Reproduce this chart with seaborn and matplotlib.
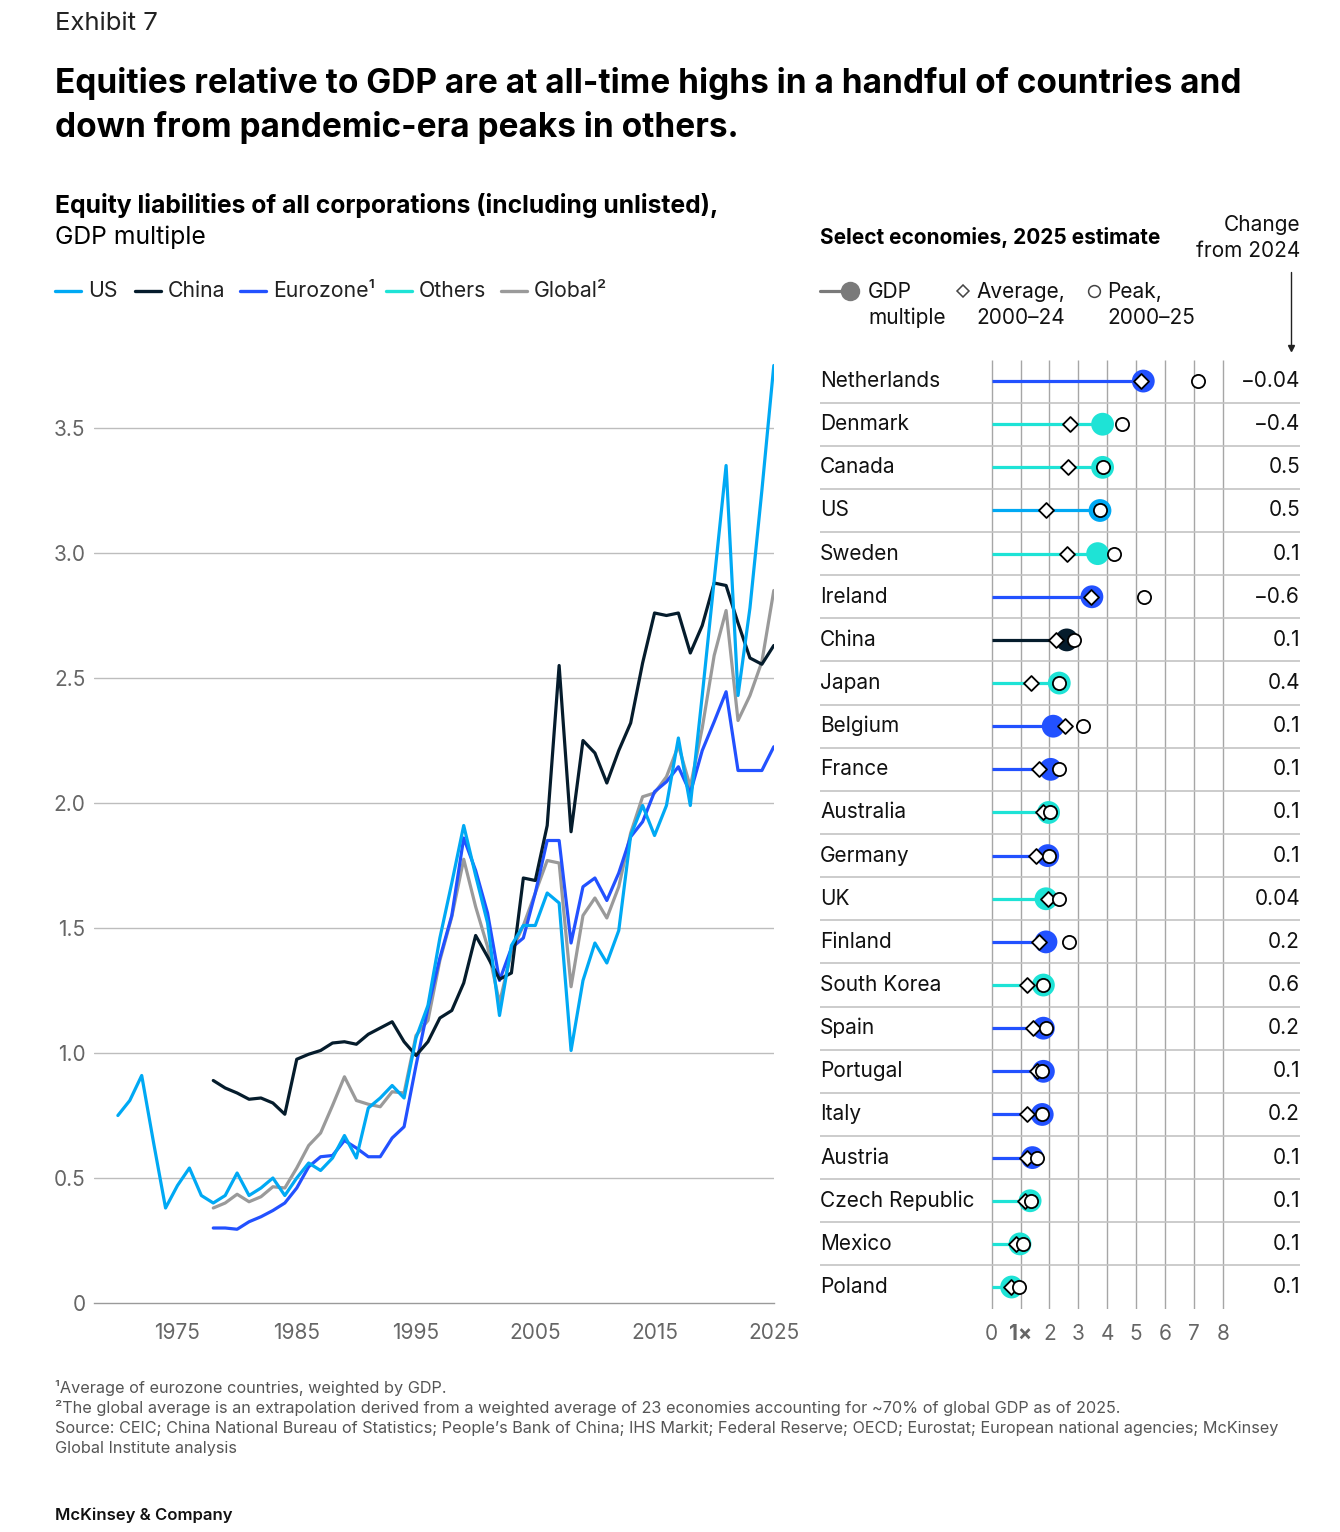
import matplotlib
matplotlib.use('Agg')
import matplotlib.pyplot as plt
import matplotlib.ticker as mticker
import numpy as np
import pandas as pd
import seaborn as sns

# ---- data: left panel (GDP multiple over time) ----
us_years = list(range(1970, 2026))
us_vals = [0.75, 0.81, 0.91, 0.64, 0.38, 0.47, 0.54, 0.43, 0.40, 0.43,
           0.52, 0.43, 0.46, 0.50, 0.43, 0.50, 0.56, 0.53, 0.58, 0.67,
           0.58, 0.78, 0.82, 0.87, 0.82, 1.06, 1.19, 1.46, 1.68, 1.91,
           1.71, 1.52, 1.15, 1.43, 1.51, 1.51, 1.64, 1.60, 1.01, 1.29,
           1.44, 1.36, 1.49, 1.87, 1.99, 1.87, 1.99, 2.26, 1.99, 2.43,
           2.89, 3.35, 2.43, 2.78, 3.25, 3.75]
other_years = list(range(1978, 2026))
china_vals = [0.89, 0.86, 0.84, 0.815, 0.82, 0.80, 0.755, 0.975, 0.995, 1.01,
              1.04, 1.045, 1.035, 1.075, 1.10, 1.125, 1.045, 0.99, 1.045, 1.14,
              1.17, 1.28, 1.47, 1.385, 1.295, 1.32, 1.70, 1.69, 1.91, 2.55,
              1.885, 2.25, 2.20, 2.08, 2.21, 2.32, 2.56, 2.76, 2.75, 2.76,
              2.60, 2.71, 2.88, 2.87, 2.72, 2.58, 2.555, 2.63]
euro_vals = [0.30, 0.30, 0.295, 0.325, 0.345, 0.37, 0.40, 0.46, 0.545, 0.585,
             0.59, 0.65, 0.62, 0.585, 0.585, 0.66, 0.705, 0.95, 1.18, 1.38,
             1.55, 1.86, 1.73, 1.56, 1.29, 1.42, 1.46, 1.64, 1.85, 1.85,
             1.44, 1.665, 1.70, 1.61, 1.72, 1.865, 1.925, 2.045, 2.085, 2.145,
             2.04, 2.21, 2.325, 2.445, 2.13, 2.13, 2.13, 2.225]
global_vals = [0.38, 0.40, 0.435, 0.405, 0.425, 0.465, 0.46, 0.54, 0.63, 0.68,
               0.79, 0.905, 0.81, 0.795, 0.785, 0.845, 0.84, 1.07, 1.13, 1.37,
               1.545, 1.775, 1.585, 1.425, 1.20, 1.405, 1.51, 1.64, 1.77, 1.76,
               1.265, 1.55, 1.62, 1.54, 1.665, 1.88, 2.025, 2.04, 2.105, 2.23,
               2.065, 2.30, 2.59, 2.77, 2.33, 2.43, 2.565, 2.85]

# ---- data: right panel (2025 estimate by economy) ----
countries = ['Netherlands', 'Denmark', 'Canada', 'US', 'Sweden', 'Ireland', 'China',
             'Japan', 'Belgium', 'France', 'Australia', 'Germany', 'UK', 'Finland',
             'South Korea', 'Spain', 'Portugal', 'Italy', 'Austria', 'Czech Republic',
             'Mexico', 'Poland']
groups = ['Eurozone', 'Others', 'Others', 'US', 'Others', 'Eurozone', 'China',
          'Others', 'Eurozone', 'Eurozone', 'Others', 'Eurozone', 'Others', 'Eurozone',
          'Others', 'Eurozone', 'Eurozone', 'Eurozone', 'Eurozone', 'Others',
          'Others', 'Others']
gdp_mult = [5.25, 3.84, 3.84, 3.75, 3.67, 3.47, 2.60, 2.34, 2.13, 2.04, 1.97,
            1.94, 1.88, 1.88, 1.79, 1.79, 1.79, 1.75, 1.41, 1.33, 0.98, 0.69]
avg_00_24 = [5.17, 2.71, 2.65, 1.89, 2.62, 3.43, 2.23, 1.36, 2.54, 1.65, 1.76,
             1.52, 1.96, 1.65, 1.21, 1.42, 1.56, 1.23, 1.23, 1.15, 0.84, 0.66]
peak_00_25 = [7.15, 4.52, 3.84, 3.75, 4.22, 5.28, 2.86, 2.34, 3.17, 2.34, 2.03,
              1.98, 2.34, 2.69, 1.79, 1.88, 1.75, 1.75, 1.56, 1.35, 1.07, 0.96]
change_2024 = ['−0.04', '−0.4', '0.5', '0.5', '0.1', '−0.6', '0.1', '0.4', '0.1',
               '0.1', '0.1', '0.1', '0.04', '0.2', '0.6', '0.2', '0.1', '0.2',
               '0.1', '0.1', '0.1', '0.1']
xtick_labels = ['0', '1×', '2', '3', '4', '5', '6', '7', '8']

palette = {'US': '#00A9F4', 'China': '#051C2C', 'Eurozone': '#2251FF',
           'Others': '#1EE3D6', 'Global': '#9A9A9A'}

sns.set_theme(style='white')
plt.rcParams['font.family'] = ['Inter', 'DejaVu Sans']

W, H = 1340, 1532
fig = plt.figure(figsize=(W / 100, H / 100), dpi=100)
fig.patch.set_facecolor('white')


def fx(x):
    return x / W


def fy(y):
    return 1 - y / H


# ---- headers ----
fig.text(fx(55), fy(23), 'Exhibit 7', fontsize=18.5, color='#222222', va='center')
fig.text(fx(55), fy(84), 'Equities relative to GDP are at all-time highs in a handful of countries and',
         fontsize=24, fontweight='bold', color='black', va='center')
fig.text(fx(55), fy(127), 'down from pandemic-era peaks in others.',
         fontsize=24, fontweight='bold', color='black', va='center')
fig.text(fx(55), fy(205), 'Equity liabilities of all corporations (including unlisted),',
         fontsize=17.8, fontweight='bold', color='black', va='center')
fig.text(fx(55), fy(237), 'GDP multiple', fontsize=17.8, color='black', va='center')

# left legend
leg_items = [('US', 'US', 55), ('China', 'China', 135), ('Eurozone', 'Eurozone¹', 240),
             ('Others', 'Others', 386), ('Global', 'Global²', 501)]
for key, lab, x0 in leg_items:
    fig.add_artist(plt.Line2D([fx(x0), fx(x0 + 26)], [fy(291), fy(291)],
                              color=palette[key], lw=2.4, transform=fig.transFigure))
    fig.text(fx(x0 + 33), fy(291), lab, fontsize=15.3, color='#222222', va='center')

# ---- left panel ----
ax = fig.add_axes([fx(94), fy(1303), (773.8 - 94) / W, 950 / H])
df = pd.concat([
    pd.DataFrame({'year': us_years, 'value': us_vals, 'series': 'US'}),
    pd.DataFrame({'year': other_years, 'value': china_vals, 'series': 'China'}),
    pd.DataFrame({'year': other_years, 'value': euro_vals, 'series': 'Eurozone'}),
    pd.DataFrame({'year': other_years, 'value': global_vals, 'series': 'Global'}),
])
sns.lineplot(data=df, x='year', y='value', hue='series', palette=palette,
             hue_order=['Global', 'Eurozone', 'China', 'US'], linewidth=2.3,
             legend=False, ax=ax, zorder=3)
ax.set_xlim(1968, 2025)
ax.set_ylim(0, 3.8)
ax.set_xlabel('')
ax.set_ylabel('')
for s in ['top', 'right', 'left']:
    ax.spines[s].set_visible(False)
ax.spines['bottom'].set_color('#9A9A9A')
ax.spines['bottom'].set_linewidth(1.0)

ax.set_yticks(np.arange(0, 3.51, 0.5))
ax.set_yticklabels(['0', '0.5', '1.0', '1.5', '2.0', '2.5', '3.0', '3.5'])
ax.yaxis.set_minor_locator(mticker.FixedLocator(
    [v / 10 for v in range(1, 39) if v % 5 != 0]))
ax.tick_params(axis='y', which='major', length=0, pad=6, labelsize=15, labelcolor='#666666')
ax.tick_params(axis='y', which='minor', direction='in', length=8.5, width=1.0, color='#BDBDBD')
for yv in np.arange(0.5, 3.51, 0.5):
    ax.axhline(yv, color='#BDBDBD', lw=1.0, zorder=1)

ax.set_xticks(range(1975, 2026, 10))
ax.xaxis.set_minor_locator(mticker.FixedLocator(range(1970, 2026)))
ax.tick_params(axis='x', which='major', direction='out', length=8.5, width=1.0,
               color='#9A9A9A', pad=6, labelsize=15, labelcolor='#666666')
ax.tick_params(axis='x', which='minor', direction='out', length=3.8, width=1.0, color='#9A9A9A')

# ---- right panel ----
px_unit = 28.875
xl = (820 - 991.7) / px_unit
xr = (1300 - 991.7) / px_unit
ax2 = fig.add_axes([fx(820), fy(1308.6), (1300 - 820) / W, (1308.6 - 359.5) / H])
ax2.set_xlim(xl, xr)
ax2.set_ylim(len(countries) - 0.5, -0.5)
for s in ax2.spines.values():
    s.set_visible(False)
ax2.set_yticks([])
ax2.set_xticks(range(9))
ax2.set_xticklabels(xtick_labels)
ax2.tick_params(axis='x', length=0, pad=11, labelsize=15, labelcolor='#666666')
ax2.get_xticklabels()[1].set_fontweight('bold')

ax2.vlines(range(9), -0.5, len(countries) - 0.5, color='#A6A6A6', lw=1.0, zorder=1)
ax2.hlines(np.arange(0.5, len(countries) - 1), xl, xr, color='#C4C4C4', lw=1.2, zorder=1)

rows = list(range(len(countries)))
ax2.hlines(rows, 0, gdp_mult, colors=[palette[g] for g in groups], lw=2.3, zorder=2)
rdf = pd.DataFrame({'row': rows, 'gdp': gdp_mult, 'group': groups})
sns.scatterplot(data=rdf, x='gdp', y='row', hue='group', palette=palette, s=270,
                linewidth=0, legend=False, ax=ax2, zorder=3)
ax2.scatter(avg_00_24, rows, marker='D', s=58, facecolor='white', edgecolor='black',
            linewidth=1.3, zorder=4)
ax2.scatter(peak_00_25, rows, marker='o', s=90, facecolor='white', edgecolor='black',
            linewidth=1.3, zorder=5)
ax2.set_xlabel('')
ax2.set_ylabel('')

for i, (name, chg) in enumerate(zip(countries, change_2024)):
    ax2.text(xl, i, name, ha='left', va='center', fontsize=15, color='#111111')
    ax2.text(xr, i, chg, ha='right', va='center', fontsize=15, color='#111111')

# right header + legend
fig.text(fx(820), fy(237), 'Select economies, 2025 estimate', fontsize=15,
         fontweight='bold', color='black', va='center')
fig.text(fx(1300), fy(238), 'Change\nfrom 2024', fontsize=15, color='#111111',
         va='center', ha='right', linespacing=1.35)
fig.add_artist(plt.Line2D([fx(1291), fx(1291)], [fy(272), fy(346)], color='#222222',
                          lw=1.0, transform=fig.transFigure))
fig.add_artist(plt.Line2D([fx(1291)], [fy(348)], marker='v', markersize=4,
                          color='#222222', transform=fig.transFigure))

fig.add_artist(plt.Line2D([fx(820), fx(850)], [fy(291), fy(291)], color='#7A7A7A',
                          lw=2.3, transform=fig.transFigure))
fig.add_artist(plt.Line2D([fx(850)], [fy(291)], marker='o', markersize=14, color='#7A7A7A',
                          markeredgewidth=0, transform=fig.transFigure))
fig.text(fx(868), fy(305), 'GDP\nmultiple', fontsize=15, color='#111111', va='center',
         linespacing=1.35)
fig.add_artist(plt.Line2D([fx(963)], [fy(291)], marker='D', markersize=6.5,
                          markerfacecolor='white', markeredgecolor='#444444',
                          markeredgewidth=1.1, transform=fig.transFigure))
fig.text(fx(976), fy(305), 'Average,\n2000–24', fontsize=15, color='#111111', va='center',
         linespacing=1.35)
fig.add_artist(plt.Line2D([fx(1094)], [fy(291)], marker='o', markersize=8.5,
                          markerfacecolor='white', markeredgecolor='#444444',
                          markeredgewidth=1.1, transform=fig.transFigure))
fig.text(fx(1107), fy(305), 'Peak,\n2000–25', fontsize=15, color='#111111', va='center',
         linespacing=1.35)

# ---- footnotes ----
notes = ['¹Average of eurozone countries, weighted by GDP.',
         '²The global average is an extrapolation derived from a weighted average of 23 economies accounting for ~70% of global GDP as of 2025.',
         'Source: CEIC; China National Bureau of Statistics; People’s Bank of China; IHS Markit; Federal Reserve; OECD; Eurostat; European national agencies; McKinsey',
         'Global Institute analysis']
for k, t in enumerate(notes):
    fig.text(fx(55), fy(1388 + 20 * k), t, fontsize=11.7, color='#555555', va='center')
fig.text(fx(55), fy(1515), 'McKinsey & Company', fontsize=12, fontweight='semibold',
         color='#111111', va='center')

fig.savefig('out.png', dpi=100)
